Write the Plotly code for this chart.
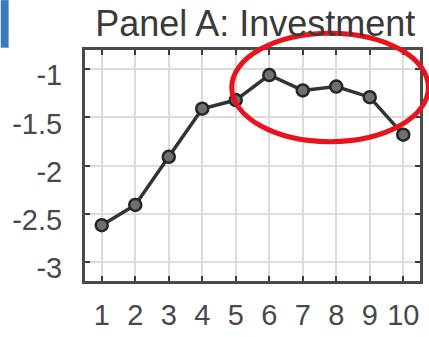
import plotly.graph_objects as go

# Event-time periods and estimated coefficients for investment
periods = [1, 2, 3, 4, 5, 6, 7, 8, 9, 10]
investment = [-2.62, -2.41, -1.91, -1.41, -1.32, -1.06, -1.22, -1.18, -1.29, -1.68]
y_ticks = [-3, -2.5, -2, -1.5, -1]
y_tick_text = ["-3", "-2.5", "-2", "-1.5", "-1"]
title_text = "Panel A: Investment"

fig = go.Figure()
fig.add_trace(go.Scatter(
    x=periods, y=investment, mode="lines+markers",
    line=dict(color="#333333", width=3.5),
    marker=dict(symbol="circle", size=12, color="#707070",
                line=dict(color="#262626", width=2.5)),
    showlegend=False,
))

axis_common = dict(
    showline=True, linecolor="#4a4a4a", linewidth=3, mirror="ticks",
    ticks="inside", ticklen=5, tickwidth=2, tickcolor="#3a3a3a",
    showgrid=True, gridcolor="#dcdcdc", gridwidth=1.5,
    zeroline=False,
    tickfont=dict(family="Liberation Sans, Arial, sans-serif", size=29, color="#484848"),
)

fig.update_xaxes(range=[0.5, 10.5], tickvals=periods, ticklabelstandoff=6, **axis_common)
fig.update_yaxes(range=[-3.2, -0.8], tickvals=y_ticks, ticktext=y_tick_text,
                 ticklabelstandoff=14, ticklabelshift=6, **axis_common)

# Red highlight ellipse around the peak periods
fig.add_shape(type="circle", xref="paper", yref="paper",
              x0=0.438, x1=1.025, y0=0.603, y1=1.073,
              line=dict(color="#e8141c", width=5), layer="above")

# Blue panel tab in the top-left corner
fig.add_shape(type="rect", xref="paper", yref="paper",
              x0=-0.2515, x1=-0.228, y0=1.01, y1=1.216,
              fillcolor="#3a78c0", line=dict(width=0), layer="above")

fig.update_layout(
    width=429, height=337,
    margin=dict(l=85, r=6, t=50, b=55),
    paper_bgcolor="white", plot_bgcolor="white",
    title=dict(text=title_text, x=0.595, xanchor="center", y=0.93, yanchor="middle",
               font=dict(family="Liberation Sans, Arial, sans-serif", size=36, color="#3a3a3a")),
)

fig.write_html("out.html")
